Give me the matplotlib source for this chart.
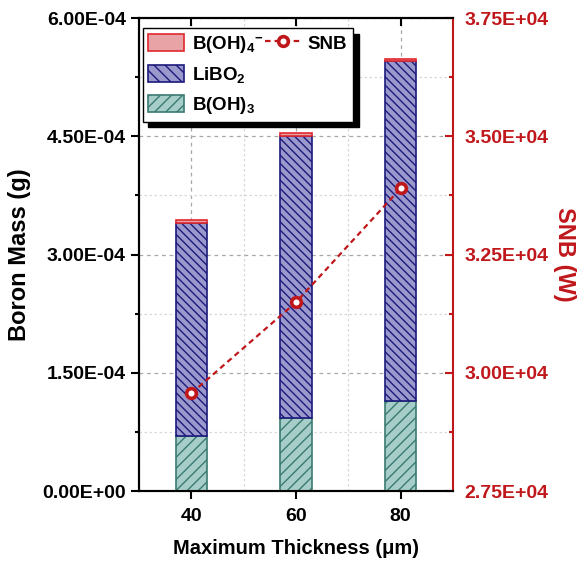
import numpy as np
import matplotlib
matplotlib.use('Agg')
import matplotlib.pyplot as plt
from matplotlib.ticker import FormatStrFormatter, MultipleLocator, AutoMinorLocator
from matplotlib.lines import Line2D
from matplotlib.patches import Patch

plt.rcParams['font.family'] = ['Liberation Sans', 'DejaVu Sans']
plt.rcParams['font.weight'] = 'bold'
plt.rcParams['mathtext.fontset'] = 'custom'
plt.rcParams['mathtext.rm'] = 'Liberation Sans:bold'
plt.rcParams['mathtext.it'] = 'Liberation Sans:bold'
plt.rcParams['mathtext.bf'] = 'Liberation Sans:bold'
plt.rcParams['hatch.linewidth'] = 1.0

thickness = [40, 60, 80]
b_oh3 = [7.0e-5, 9.3e-5, 1.146e-4]
libo2 = [2.70e-4, 3.575e-4, 4.31e-4]
b_oh4 = [3.5e-6, 3.5e-6, 3.0e-6]
snb = [2.9565e4, 3.149e4, 3.39e4]

red = '#c0171b'
hatch_li = '\\' * 4
hatch_b3 = '/' * 3

fig = plt.figure(figsize=(5.78, 5.64), dpi=100)
ax = fig.add_axes([0.2405, 0.1294, 0.5432, 0.8386])
ax2 = ax.twinx()

w = 6
bottom2 = np.array(b_oh3) + np.array(libo2)
ax.bar(thickness, b_oh3, w, facecolor='#a6cdc8', edgecolor='#3b7a72',
       hatch=hatch_b3, linewidth=1.2, zorder=3)
ax.bar(thickness, libo2, w, bottom=b_oh3, facecolor='#9b98cc',
       edgecolor='#1c1a7c', hatch=hatch_li, linewidth=1.2, zorder=3)
ax.bar(thickness, b_oh4, w, bottom=bottom2, facecolor='#e8a3a6',
       edgecolor='#e0282e', linewidth=1.2, zorder=3)

ax2.plot(thickness, snb, '--o', color=red, lw=1.6, dashes=(2.5, 1.8),
         ms=7, mew=2.6, mfc='white', mec=red, zorder=5)

ax.set_xlim(30, 90)
ax.set_ylim(0, 6e-4)
ax2.set_ylim(2.75e4, 3.75e4)
ax.set_xticks(thickness)
ax.xaxis.set_minor_locator(MultipleLocator(10))
ax.yaxis.set_major_locator(MultipleLocator(1.5e-4))
ax.yaxis.set_minor_locator(AutoMinorLocator(2))
ax2.yaxis.set_major_locator(MultipleLocator(0.25e4))
ax2.yaxis.set_minor_locator(AutoMinorLocator(2))
ax.yaxis.set_major_formatter(FormatStrFormatter('%.2E'))
ax2.yaxis.set_major_formatter(FormatStrFormatter('%.2E'))

ax.grid(True, which='major', color='#a8a8a8', ls=(0, (3, 3)), lw=0.9, zorder=0)
ax.grid(True, which='minor', color='#d8d8d8', ls=(0, (2, 2)), lw=0.9, zorder=0)
ax.set_axisbelow(True)

for s in ax.spines.values():
    s.set_linewidth(1.5)
for s in ax2.spines.values():
    s.set_linewidth(1.5)
ax2.spines['right'].set_color(red)
ax.spines['right'].set_visible(False)

ax.tick_params(axis='y', which='major', direction='out', length=6, width=1.5,
               labelsize=14)
ax.tick_params(axis='y', which='minor', direction='out', length=3, width=1.5)
ax.tick_params(axis='x', which='major', direction='out', length=6, width=1.5,
               labelsize=14, top=True, pad=6)
ax.tick_params(axis='x', which='minor', length=0)
ax2.tick_params(axis='y', which='major', direction='in', length=6, width=1.5,
                labelsize=14, colors=red, pad=8)
ax2.tick_params(axis='y', which='minor', direction='in', length=3, width=1.5,
                colors=red)
# top ticks point inward
for t in ax.xaxis.get_major_ticks():
    t.tick2line.set_marker(3)

ax.set_xlabel('Maximum Thickness (μm)', fontsize=14.5, fontweight='bold',
              labelpad=10)
ax.set_ylabel('Boron Mass (g)', fontsize=17, fontweight='bold', labelpad=8)
ax2.set_ylabel('SNB (W)', fontsize=17, fontweight='bold', color=red,
               rotation=270, labelpad=20)

handles = [
    Patch(facecolor='#e8a3a6', edgecolor='#e0282e', lw=1.2),
    Patch(facecolor='#9b98cc', edgecolor='#1c1a7c', hatch='\\\\\\', lw=1.2),
    Patch(facecolor='#a6cdc8', edgecolor='#3b7a72', hatch='///', lw=1.2),
    Line2D([], [], ls='--', dashes=(2.5, 1.8), color=red, lw=1.6, marker='o',
           ms=7, mew=2.6, mfc='white', mec=red),
    Line2D([], [], ls='none'),
    Line2D([], [], ls='none'),
]
labels = ['B(OH)$_4$$^{-}$', 'LiBO$_2$', 'B(OH)$_3$', 'SNB', '', '']
leg = ax2.legend(handles, labels, ncol=2, loc='upper left',
                 bbox_to_anchor=(0.012, 0.979), borderaxespad=0,
                 fontsize=13.5, frameon=True,
                 fancybox=False, edgecolor='black', framealpha=1,
                 handlelength=1.9, handleheight=1.0, labelspacing=0.55,
                 handletextpad=0.4, columnspacing=0.1, borderpad=0.3,
                 shadow={'ox': 4, 'oy': -4, 'color': 'black', 'alpha': 1})
leg.get_frame().set_linewidth(1.0)

fig.savefig('out.png', dpi=100)
